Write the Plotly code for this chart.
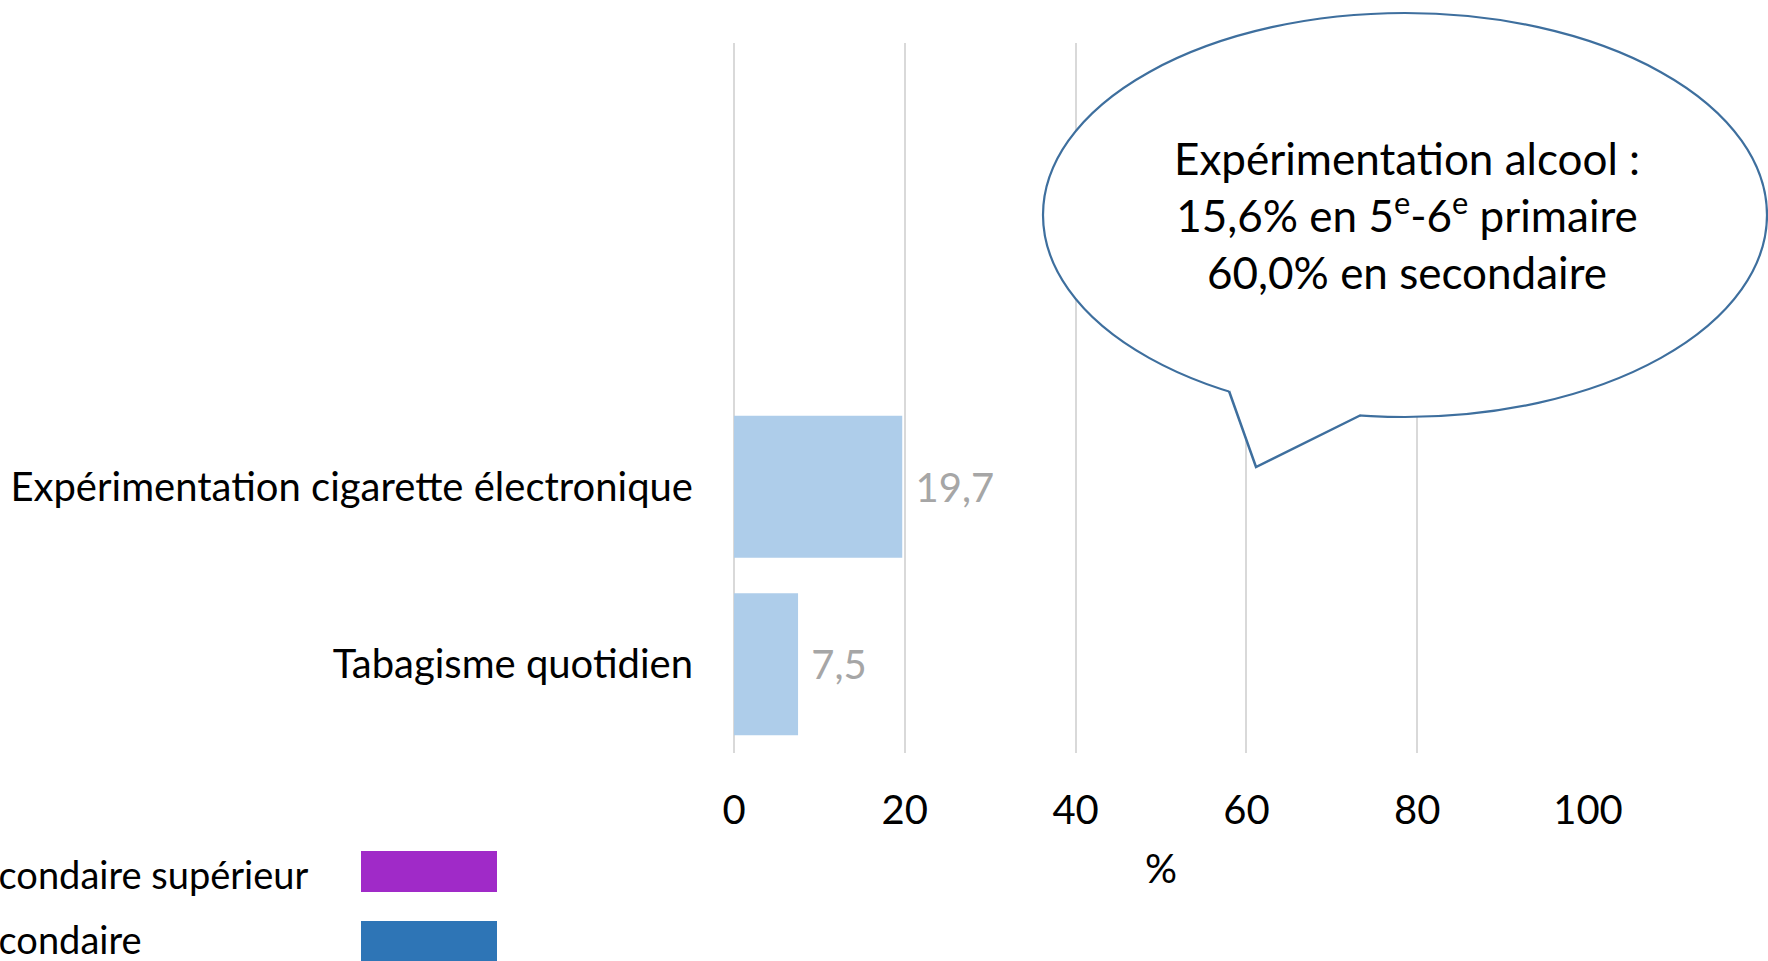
import plotly.graph_objects as go

# ---- data ----
categories = ["Tabagisme quotidien", "Expérimentation cigarette électronique"]
values = [7.5, 19.7]
x_ticks = [0, 20, 40, 60, 80, 100]
x_title = "%"
legend_labels = ["Secondaire supérieur", "Secondaire"]
legend_colors = ["#A02AC8", "#2E75B6"]
bubble_title = "Expérimentation alcool :"
alcool_primaire = 15.6
alcool_secondaire = 60.0

FONT = "Lato"
W, H = 1768, 961
L, R, T, B = 734, 180, 43, 208
PW, PH = W - L - R, H - T - B


def px(xp):
    return (xp - L) / PW


def py(yp):
    return (H - B - yp) / PH


def fmt(v):
    return f"{v:.1f}".replace(".", ",")


fig = go.Figure()
fig.add_trace(go.Bar(
    y=categories, x=values, orientation="h",
    marker=dict(color="#AECDEA", line=dict(width=0)),
    text=[" " + fmt(v) for v in values], textposition="outside",
    textfont=dict(family=FONT, size=40, color="#A6A6A6"),
    cliponaxis=False, showlegend=False, hoverinfo="skip",
))

fig.update_layout(
    width=W, height=H,
    margin=dict(l=L, r=R, t=T, b=B, pad=0, autoexpand=False),
    paper_bgcolor="white", plot_bgcolor="white",
    bargap=0.2,
    font=dict(family=FONT, size=40, color="black"),
    showlegend=False,
)
fig.update_xaxes(
    range=[0, 100], tickvals=x_ticks, showgrid=True, gridcolor="#D9D9D9", gridwidth=1.5,
    zeroline=True, zerolinecolor="#D9D9D9", zerolinewidth=1.5, showline=False,
    ticks="", ticklabelstandoff=30, automargin=False,
    tickfont=dict(family=FONT, size=40, color="black"),
    title=dict(text=x_title, standoff=22, font=dict(family=FONT, size=40, color="black")),
)
fig.update_yaxes(
    type="category", categoryorder="array", categoryarray=categories,
    range=[-0.5, 3.5], autorange=False, showgrid=False, zeroline=False, showline=False,
    ticks="", ticklabelstandoff=40, automargin=False,
    tickfont=dict(family=FONT, size=40, color="black"),
)

# ---- speech bubble ----
line_col = "#3E6F9E"
ex0, ex1, ey0, ey1 = 1043, 1767, 13, 417
b1, tip, b2 = (1229, 391), (1256, 467), (1361, 415)
fig.add_shape(type="circle", xref="paper", yref="paper",
              x0=px(ex0), x1=px(ex1), y0=py(ey1), y1=py(ey0),
              fillcolor="white", line=dict(color=line_col, width=2.2), layer="above")
fig.add_shape(type="path", xref="paper", yref="paper",
              path=(f"M {px(b1[0])},{py(b1[1])} L {px(tip[0])},{py(tip[1])} "
                    f"L {px(b2[0])},{py(b2[1])} L {px(b2[0])},{py(b2[1]-6)} "
                    f"L {px(b1[0])},{py(b1[1]-6)} Z"),
              fillcolor="white", line=dict(width=0), layer="above")
fig.add_shape(type="path", xref="paper", yref="paper",
              path=(f"M {px(b1[0])},{py(b1[1])} L {px(tip[0])},{py(tip[1])} "
                    f"L {px(b2[0])},{py(b2[1])}"),
              line=dict(color=line_col, width=2.5), layer="above")
bubble_text = (f"{bubble_title}<br>{fmt(alcool_primaire)}% en 5<sup>e</sup>-6<sup>e</sup> primaire"
               f"<br>{fmt(alcool_secondaire)}% en secondaire")
fig.add_annotation(xref="paper", yref="paper", x=px(1407), y=py(215), text=bubble_text,
                   showarrow=False, xanchor="center", yanchor="middle", align="center",
                   font=dict(family=FONT, size=44, color="black"))

# ---- legend (partially cut off at the left edge, text left of swatch) ----
leg_y = [874, 939]
sw_y = [(851, 892), (921, 963)]
for lab, col, ty, (s0, s1) in zip(legend_labels, legend_colors, leg_y, sw_y):
    fig.add_annotation(xref="paper", yref="paper", x=px(-44), y=py(ty), text=lab,
                       showarrow=False, xanchor="left", yanchor="middle", align="left",
                       font=dict(family=FONT, size=38, color="black"))
    fig.add_shape(type="rect", xref="paper", yref="paper",
                  x0=px(361), x1=px(497), y0=py(s1), y1=py(s0),
                  fillcolor=col, line=dict(width=0), layer="above")

fig.write_html("out.html")
